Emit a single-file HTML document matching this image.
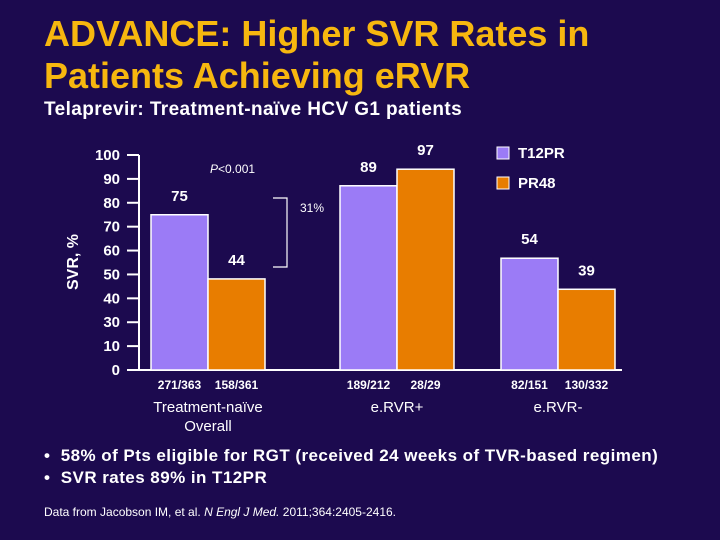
<!DOCTYPE html>
<html><head><meta charset="utf-8"><style>
body{margin:0;width:720px;height:540px;background:#1c0a4f;overflow:hidden;font-family:"Liberation Sans",Arial,sans-serif;color:#fff;position:relative}
.t{position:absolute;white-space:nowrap}
</style></head><body>
<div class="t" style="left:44px;top:13px;font-size:36px;line-height:42px;font-weight:bold;color:#f7b70f">ADVANCE: Higher SVR Rates in<br>Patients Achieving eRVR</div>
<div class="t" style="left:44px;top:99px;font-size:19px;letter-spacing:0.4px;font-weight:bold">Telaprevir: Treatment-naïve HCV G1 patients</div>
<svg id="c" width="720" height="540" style="position:absolute;left:0;top:0" font-family="Liberation Sans, Arial, sans-serif"></svg>
<div class="t" style="left:44px;top:446px;font-size:17px;letter-spacing:0.45px;font-weight:bold">•&nbsp; 58% of Pts eligible for RGT (received 24 weeks of TVR-based regimen)</div>
<div class="t" style="left:44px;top:468px;font-size:17px;letter-spacing:0.45px;font-weight:bold">•&nbsp; SVR rates 89% in T12PR</div>
<div class="t" style="left:44px;top:505px;font-size:12px">Data from Jacobson IM, et al. <i>N Engl J Med.</i> 2011;364:2405-2416.</div>
<script>
const groups=["Treatment-naïve\nOverall","e.RVR+","e.RVR-"];
const t12=[75,89,54];
const pr48=[44,97,39];
const t12n=["271/363","189/212","82/151"];
const pr48n=["158/361","28/29","130/332"];
const ticks=["100","90","80","70","60","50","40","30","10","0"];
const NS="http://www.w3.org/2000/svg",svg=document.getElementById('c');
function mk(tag,a,txt){const e=document.createElementNS(NS,tag);for(const k in a)e.setAttribute(k,a[k]);if(txt!=null)e.textContent=txt;svg.appendChild(e);return e;}
const y0=370,k=2.07;
const y=v=>y0-v*k;
const gx=[151,340,501],bw=57;
let e=mk('line',{x1:139,y1:155,x2:139,y2:370,stroke:'#fff','stroke-width':2});

e=mk('line',{x1:139,y1:370,x2:622,y2:370,stroke:'#fff','stroke-width':2});

ticks.forEach((t,i)=>{const ty=155+i*(215/(ticks.length-1));
 e=mk('line',{x1:127,y1:ty,x2:139,y2:ty,stroke:'#fff','stroke-width':2});
 
 e=mk('text',{x:120,y:ty+5,'text-anchor':'end','font-size':15,'font-weight':'bold',fill:'#fff'},t);
 });
e=mk('text',{x:0,y:0,transform:'translate(78,262) rotate(-90)','text-anchor':'middle','font-size':16,'font-weight':'bold',fill:'#fff'},'SVR, %');

groups.forEach((g,i)=>{
 [[t12,'#9b7bf6',t12n],[pr48,'#e87d00',pr48n]].forEach(([arr,col,nn],j)=>{
  const x=gx[i]+j*bw,v=arr[i];
  e=mk('rect',{x:x,y:y(v),width:bw,height:v*k,fill:col,stroke:'#fff','stroke-width':1.5});
  
  e=mk('text',{x:x+bw/2,y:y(v)-14,'text-anchor':'middle','font-size':15,'font-weight':'bold',fill:'#fff'},v);
  
  e=mk('text',{x:x+bw/2,y:389,'text-anchor':'middle','font-size':12,'font-weight':'bold',fill:'#fff'},nn[i]);
  
 });
 g.split('\n').forEach((ln,m)=>{
  e=mk('text',{x:gx[i]+bw,y:412+m*19,'text-anchor':'middle','font-size':15,fill:'#fff'},ln);
  });
});
e=mk('path',{d:'M273 198 H287 V267 H273',fill:'none',stroke:'#fff','stroke-width':1.2});

e=mk('text',{x:300,y:212,'font-size':12,fill:'#fff'},'31%');

e=mk('text',{x:210,y:173,'font-size':12,fill:'#fff'});e.innerHTML='<tspan font-style="italic">P</tspan>&lt;0.001';

[['T12PR','#9b7bf6',147],['PR48','#e87d00',177]].forEach(([n,c,ly])=>{
 e=mk('rect',{x:497,y:ly,width:12,height:12,fill:c,stroke:'#fff','stroke-width':1});
 
 e=mk('text',{x:518,y:ly+11,'font-size':15,'font-weight':'bold',fill:'#fff'},n);
 });
</script>
</body></html>
